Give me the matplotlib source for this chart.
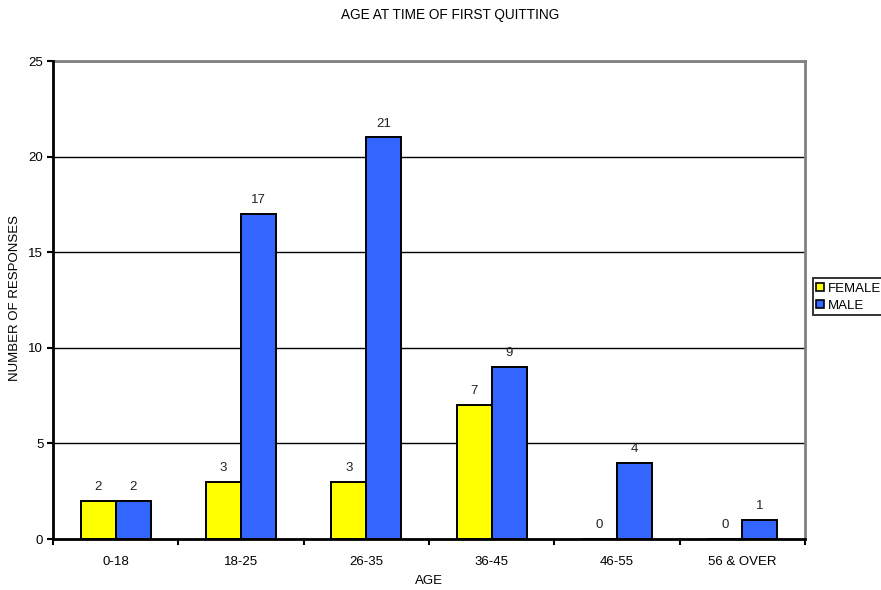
import numpy as np
import matplotlib
matplotlib.use('Agg')
from matplotlib import pyplot as plt
from matplotlib.lines import Line2D

plt.rcParams['font.family'] = ['Liberation Sans', 'DejaVu Sans']

# data
ages = ['0-18', '18-25', '26-35', '36-45', '46-55', '56 & OVER']
female = [2, 3, 3, 7, 0, 0]
male = [2, 17, 21, 9, 4, 1]

fig = plt.figure(figsize=(8.81, 5.9), dpi=100)
ax = fig.add_axes([0.0602, 0.0864, 0.8535, 0.8102])

fs = 9.5
x = np.arange(len(ages))
w = 0.28
ax.bar(x - w / 2, female, w, color='#ffff00', edgecolor='black', linewidth=1.4, zorder=3)
ax.bar(x + w / 2, male, w, color='#3366ff', edgecolor='black', linewidth=1.4, zorder=3)

for i in range(len(ages)):
    ax.text(x[i] - w / 2, female[i] + 0.72, str(female[i]), ha='center', va='center', fontsize=fs, color='#222222')
    ax.text(x[i] + w / 2, male[i] + 0.72, str(male[i]), ha='center', va='center', fontsize=fs, color='#222222')

ax.set_xlim(-0.5, len(ages) - 0.5)
ax.set_ylim(0, 25)
ax.set_yticks([0, 5, 10, 15, 20, 25])
ax.set_xticks(x)
ax.set_xticklabels(ages, fontsize=fs)
ax.set_xticks(np.arange(-0.5, len(ages)), minor=True)
ax.tick_params(axis='x', which='major', length=0, pad=12)
ax.tick_params(axis='x', which='minor', length=4, width=1.5, direction='out')
ax.tick_params(axis='y', length=4, width=1.5, direction='out', labelsize=fs, pad=3)

ax.yaxis.grid(True, color='black', linewidth=1.0, zorder=0)
ax.spines['left'].set_linewidth(2)
ax.spines['bottom'].set_linewidth(2)
ax.spines['left'].set_zorder(4)
ax.spines['bottom'].set_zorder(4)
ax.spines['top'].set_color('#808080')
ax.spines['right'].set_color('#808080')
ax.spines['top'].set_linewidth(2)
ax.spines['right'].set_linewidth(2)

fig.text(0.511, 0.974, 'AGE AT TIME OF FIRST QUITTING', ha='center', va='center', fontsize=9.8)
ax.set_xlabel('AGE', fontsize=fs, labelpad=5)
ax.set_ylabel('NUMBER OF RESPONSES', fontsize=fs)
ax.yaxis.set_label_coords(-0.043, 0.505)

handles = [Line2D([], [], marker='s', linestyle='none', markersize=5.5, markeredgewidth=1.2,
                  markerfacecolor='#ffff00', markeredgecolor='black'),
           Line2D([], [], marker='s', linestyle='none', markersize=5.5, markeredgewidth=1.2,
                  markerfacecolor='#3366ff', markeredgecolor='black')]
leg = fig.legend(handles, ['FEMALE', 'MALE'], loc='upper left', bbox_to_anchor=(0.923, 0.528),
                 fontsize=fs, frameon=True, fancybox=False, handlelength=0.5,
                 handletextpad=0.3, borderpad=0.3, labelspacing=0.35, borderaxespad=0)
leg.get_frame().set_edgecolor('black')
leg.get_frame().set_linewidth(1.4)

fig.savefig('out.png', dpi=100)
